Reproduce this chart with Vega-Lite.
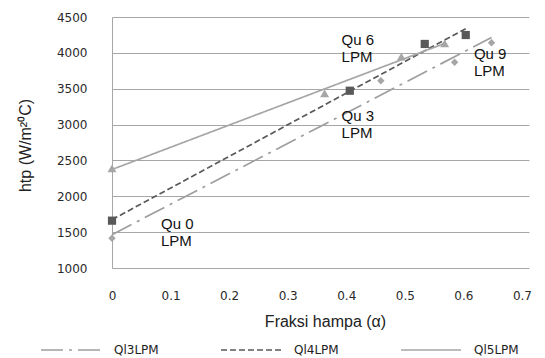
{
  "$schema": "https://vega.github.io/schema/vega-lite/v6.json",
  "width": 417,
  "height": 251,
  "autosize": {"type": "none"},
  "padding": {"left": 112, "top": 17, "right": 16, "bottom": 90},
  "background": "white",
  "config": {"view": {"stroke": null}, "font": "Liberation Sans"},
  "datasets": {
    "pts": [
      {"series": "Ql3LPM", "alpha": 0, "htp": 1414},
      {"series": "Ql3LPM", "alpha": 0.459, "htp": 3612},
      {"series": "Ql3LPM", "alpha": 0.585, "htp": 3868},
      {"series": "Ql3LPM", "alpha": 0.648, "htp": 4142},
      {"series": "Ql4LPM", "alpha": 0, "htp": 1660},
      {"series": "Ql4LPM", "alpha": 0.406, "htp": 3472},
      {"series": "Ql4LPM", "alpha": 0.534, "htp": 4124},
      {"series": "Ql4LPM", "alpha": 0.604, "htp": 4249},
      {"series": "Ql5LPM", "alpha": 0, "htp": 2390},
      {"series": "Ql5LPM", "alpha": 0.363, "htp": 3436},
      {"series": "Ql5LPM", "alpha": 0.494, "htp": 3947},
      {"series": "Ql5LPM", "alpha": 0.568, "htp": 4133}
    ],
    "notes": [
      {"label": "Qu 0\nLPM", "alpha": 0.0836, "htp": 1711},
      {"label": "Qu 3\nLPM", "alpha": 0.392, "htp": 3217},
      {"label": "Qu 6\nLPM", "alpha": 0.392, "htp": 4273},
      {"label": "Qu 9\nLPM", "alpha": 0.618, "htp": 4086}
    ]
  },
  "resolve": {
    "scale": {"fill": "independent", "shape": "independent", "size": "independent"},
    "legend": {"fill": "independent", "shape": "independent", "size": "independent"}
  },
  "encoding": {
    "x": {
      "field": "alpha",
      "type": "quantitative",
      "scale": {"domain": [0, 0.712], "nice": false, "zero": false},
      "axis": {
        "values": [0, 0.1, 0.2, 0.3, 0.4, 0.5, 0.6, 0.7],
        "format": "~g",
        "domain": false,
        "ticks": false,
        "grid": false,
        "labelFlush": false,
        "labelPadding": 22,
        "labelFont": "DejaVu Sans",
        "labelFontSize": 12,
        "labelColor": "#2a2a2a",
        "title": "Fraksi hampa (α)",
        "titleFont": "Liberation Sans",
        "titleFontSize": 16,
        "titleFontWeight": "normal",
        "titleColor": "#222",
        "titlePadding": 12,
        "titleX": 213
      }
    },
    "y": {
      "field": "htp",
      "type": "quantitative",
      "scale": {"domain": [1000, 4500], "nice": false, "zero": false},
      "axis": {
        "values": [1000, 1500, 2000, 2500, 3000, 3500, 4000, 4500],
        "format": "d",
        "domain": true,
        "domainColor": "#a6a6a6",
        "ticks": false,
        "grid": true,
        "gridColor": "#a6a6a6",
        "labelPadding": 25,
        "labelFont": "DejaVu Sans",
        "labelFontSize": 12,
        "labelColor": "#2a2a2a",
        "title": "htp (W/m²⁰C)",
        "titleFont": "Liberation Sans",
        "titleFontSize": 16,
        "titleFontWeight": "normal",
        "titleColor": "#222",
        "titleX": -79,
        "titleY": 128
      }
    }
  },
  "layer": [
    {
      "data": {"name": "pts"},
      "transform": [{"regression": "htp", "on": "alpha", "groupby": ["series"]}],
      "mark": {"type": "line", "strokeWidth": 1.7},
      "encoding": {
        "color": {
          "field": "series",
          "type": "nominal",
          "scale": {"domain": ["Ql3LPM", "Ql4LPM", "Ql5LPM"], "range": ["#9e9e9e", "#595959", "#a6a6a6"]},
          "legend": {
            "title": null,
            "orient": "none",
            "legendX": -72,
            "legendY": 302,
            "direction": "horizontal",
            "columns": 3,
            "columnPadding": 58,
            "symbolType": "stroke",
            "symbolSize": 3600,
            "symbolStrokeWidth": 1.6,
            "labelFont": "DejaVu Sans",
            "labelFontSize": 12,
            "labelColor": "#222",
            "labelOffset": 12
          }
        },
        "strokeDash": {
          "field": "series",
          "type": "nominal",
          "scale": {"domain": ["Ql3LPM", "Ql4LPM", "Ql5LPM"], "range": [[22, 6, 3, 6], [6, 3], [1, 0]]},
          "legend": {
            "title": null,
            "orient": "none",
            "legendX": -72,
            "legendY": 302,
            "direction": "horizontal",
            "columns": 3,
            "columnPadding": 58,
            "symbolType": "stroke",
            "symbolSize": 3600,
            "symbolStrokeWidth": 1.6,
            "labelFont": "DejaVu Sans",
            "labelFontSize": 12,
            "labelColor": "#222",
            "labelOffset": 12
          }
        }
      }
    },
    {
      "data": {"name": "pts"},
      "mark": {"type": "point", "filled": true, "opacity": 1},
      "encoding": {
        "fill": {
          "field": "series",
          "type": "nominal",
          "scale": {"domain": ["Ql3LPM", "Ql4LPM", "Ql5LPM"], "range": ["#a6a6a6", "#595959", "#a6a6a6"]},
          "legend": null
        },
        "shape": {
          "field": "series",
          "type": "nominal",
          "scale": {"domain": ["Ql3LPM", "Ql4LPM", "Ql5LPM"], "range": ["diamond", "square", "triangle-up"]},
          "legend": null
        },
        "size": {
          "field": "series",
          "type": "nominal",
          "scale": {"domain": ["Ql3LPM", "Ql4LPM", "Ql5LPM"], "range": [55, 80, 60]},
          "legend": null
        }
      }
    },
    {
      "data": {"name": "notes"},
      "mark": {
        "type": "text",
        "align": "left",
        "baseline": "top",
        "font": "Liberation Sans",
        "fontSize": 15,
        "color": "#111",
        "lineBreak": "\n",
        "lineHeight": 17
      },
      "encoding": {
        "text": {"field": "label"}
      }
    }
  ]
}
